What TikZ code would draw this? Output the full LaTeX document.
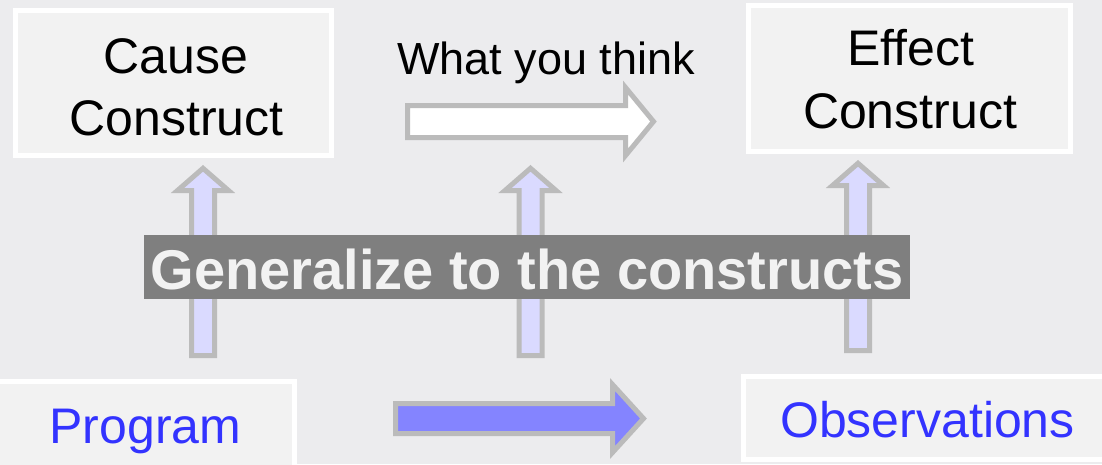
\documentclass[tikz,border=0pt]{standalone}
\usepackage{fontspec}
\setmainfont{Liberation Sans}
\definecolor{bgc}{RGB}{236,236,238}
\definecolor{boxfill}{RGB}{242,242,242}
\definecolor{arrgrey}{RGB}{187,187,187}
\definecolor{lav}{RGB}{218,218,255}
\definecolor{bluearr}{RGB}{132,132,255}
\definecolor{bluetxt}{RGB}{51,51,255}
\definecolor{bandgrey}{RGB}{127,127,127}
\definecolor{bandtxt}{RGB}{242,242,242}
\tikzset{
  cbox/.style={draw=white, fill=boxfill, line width=5pt, inner sep=0pt, outer sep=0pt},
  bigtxt/.style={anchor=base, inner sep=0pt, font=\fontsize{50}{60}\selectfont},
  uparr/.style={draw=arrgrey, fill=lav, line width=5pt, miter limit=10},
  rarr/.style={draw=arrgrey, line width=5pt, miter limit=10},
}
\newcommand\myuparrow[4]{% cx, tip, headbase, bottom
  \path[uparr] ({#1-11.5},#4) -- ({#1-11.5},#3) -- ({#1-25.5},#3) -- (#1,#2)
    -- ({#1+25.5},#3) -- ({#1+11.5},#3) -- ({#1+11.5},#4) -- cycle;}
\begin{document}
\begin{tikzpicture}[x=1pt,y=-1pt]
\useasboundingbox (0,0) rectangle (1102,464);
\fill[bgc] (0,0) rectangle (1102,464);

% boxes
\node[cbox, minimum width=316pt, minimum height=145pt] (cause) at (173.5,83) {};
\node[cbox, minimum width=322pt, minimum height=146pt] (effect) at (909.5,78.5) {};
\node[cbox, minimum width=304.5pt, minimum height=93.5pt] (program) at (142.25,428.25) {};
\node[cbox, minimum width=366.5pt, minimum height=83pt] (obs) at (926.75,418) {};

\node[bigtxt] (cause1) at (176,73) {Cause};
\node[bigtxt] (cause2) at (176.5,135) {Construct};
\node[bigtxt] (effect1) at (911,65) {Effect};
\node[bigtxt] (effect2) at (910,128) {Construct};
\node[bigtxt, text=bluetxt] (programt) at (145.5,443) {Program};
\node[bigtxt, text=bluetxt] (obst) at (927.5,437) {Observations};
\node[anchor=base, inner sep=0pt, font=\fontsize{45}{54}\selectfont] (think) at (546,74) {What you think};

% up arrows
\myuparrow{203}{168.3}{190.5}{355.5}
\myuparrow{530.5}{168.3}{190.5}{355.5}
\myuparrow{858}{163.3}{185.5}{350.5}

% white right arrow
\path[rarr, fill=white] (407.5,105.5) -- (625.5,105.5) -- (625.5,87.5) -- (653.5,121.5)
  -- (625.5,155.5) -- (625.5,137.5) -- (407.5,137.5) -- cycle;
% blue right arrow
\path[rarr, fill=bluearr] (395.5,403.5) -- (612.5,403.5) -- (612.5,384.5) -- (643.5,418.5)
  -- (612.5,452.5) -- (612.5,433.5) -- (395.5,433.5) -- cycle;

% band
\node[fill=bandgrey, text=bandtxt, inner sep=0pt, minimum width=766pt, minimum height=64pt,
  text height=44pt, text depth=0pt, font=\bfseries\fontsize{56}{67}\selectfont] (band) at (527,267) {Generalize to the constructs};
\end{tikzpicture}
\end{document}
